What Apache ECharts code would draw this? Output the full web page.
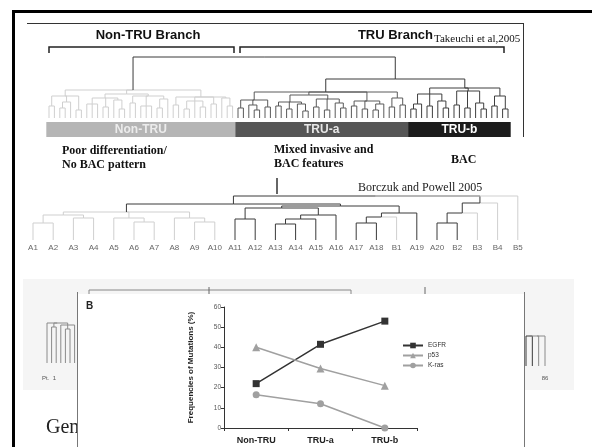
<!DOCTYPE html>
<html><head><meta charset="utf-8">
<script src="https://cdn.jsdelivr.net/npm/echarts@6/dist/echarts.min.js"></script>
<style>html,body{margin:0;padding:0;background:#fff}#c{width:592px;height:447px}</style>
</head><body><div id="c"></div>
<script>
// ---- Line chart data (panel B) ----
const categories = ['Non-TRU', 'TRU-a', 'TRU-b'];
const egfr = [22, 41.5, 53];
const p53 = [40, 29.5, 21];
const kras = [16.5, 12, 0];
const yTicks = [0, 10, 20, 30, 40, 50, 60];
const seriesNames = ['EGFR', 'p53', 'K-ras'];

// ---- Takeuchi dendrogram (leaf index, merge height) ----
const takeuchiGroups = ['Non-TRU', 'TRU-a', 'TRU-b'];
const takeuchiGroupSizes = [35, 32, 19];
const ntTree = [[28,1],
  [22,[12,0,1],[16,[10,2,3],4],[8,5,6]],
  [24,[20,[14,7,8,9],[11,10,11],[18,12,[9,13,14]]],[22,[15,15,16],[12,17,18,19],[19,[10,20,21],22]]],
  [21,[13,23,24],[17,[9,25,26],27,[11,28,29]],[14,30,31],[20,32,[12,33,34]]]
];
const truATree = [[26,2],
  [18,[10,35,36],[13,37,[8,38,39]],[11,40,41]],
  [23,[16,[12,42,43],[9,44,45],[14,46,[7,47,48]]],[19,[11,49,50],[8,51,52],[15,53,[10,54,55]]]],
  [17,[12,56,57],[9,58,59],[14,[8,60,61],62]],
  [20,[11,63,64],[13,65,66]]
];
const truBTree = [[30,3],
  [24,[14,[9,67,68],69],[12,70,71],[17,72,[10,73,74]]],
  [27,[13,75,76],[10,77,78],[15,79,[9,80,81]]],
  [22,[12,82,83],[9,84,85]]
];
const takeuchiTree = [[61,0], ntTree, [[39,0], truATree, truBTree]];

// ---- Borczuk and Powell dendrogram ----
const borczukLabels = ['A1','A2','A3','A4','A5','A6','A7','A8','A9','A10','A11','A12','A13','A14','A15','A16','A17','A18','B1','A19','A20','B2','B3','B4','B5'];
const borczukLightLeaves = [18, 22, 23, 24];
const borczukTree = [[44,0],
  [[36,0],
    [[28,1],[25,[17,0,1],[22,2,3]],[22,4,[18,5,6]],[22,7,[18,8,9]]],
    [34,[32,[21,10,11],[25,[21,[16,12,13],14],15]],[27,[23,[17,16,17],18],19]]
  ],
  [37,[27,[17,20,21],22],23],
  24
];

// ---- small dendrogram fragments behind panel B ----
const miniLeftTree = [[40,4], 0, [36,1,2], [38,3,[34,4,5],6]];
const miniRightTree = [[30,4], [[30,0],0,1], 2, 3];

const palette = ['#3a3a3a', '#cfcfcf', '#5a5a5a', '#3f3f3f', '#8a8a8a'];
const SANS = '"Liberation Sans", Arial, sans-serif';
const SERIF = '"Liberation Serif", "Times New Roman", serif';

function walk(node, segs, inherited, light) {
  if (typeof node === 'number') return {x: node, h: 0, leaf: true, light: light.indexOf(node) >= 0};
  let h = node[0], col = inherited;
  if (Array.isArray(h)) { col = h[1]; h = h[0]; }
  const kids = node.slice(1).map(c => walk(c, segs, col, light));
  const xs = kids.map(k => k.x);
  const x = (Math.min(...xs) + Math.max(...xs)) / 2;
  kids.forEach(k => {
    const c = (k.leaf && k.light) ? 1 : col;
    segs.push([k.x, k.h, k.x, h, c]);
    segs.push([x, h, k.x, h, c]);
  });
  return {x, h, leaf: false};
}
function treeSegs(tree, light) { const s = []; walk(tree, s, 0, light || []); return s; }

function segSeries(gi, segs) {
  return {
    type: 'custom', xAxisIndex: gi, yAxisIndex: gi, data: segs, silent: true, clip: false,
    encode: {x: [0, 2], y: [1, 3]}, z: 2,
    renderItem(params, api) {
      const a = api.coord([api.value(0), api.value(1)]);
      const b = api.coord([api.value(2), api.value(3)]);
      return {type: 'line', shape: {x1: a[0], y1: a[1], x2: b[0], y2: b[1]},
        style: {stroke: palette[api.value(4)], lineWidth: 1}};
    }
  };
}

const barData = [];
{ let s = -0.5; takeuchiGroupSizes.forEach((n, i) => { barData.push([s, s + n, i]); s += n; }); }
const barFill = ['#b5b5b5', '#565656', '#1c1c1c'];
const barText = ['#ececec', '#e8e8e8', '#ffffff'];

const hidden = {show: false};
function hAxis(gi, min, max) { return {gridIndex: gi, type: 'value', min, max, show: false}; }

const chart = echarts.init(document.getElementById('c'), null, {renderer: 'canvas'});
chart.setOption({
  animation: false,
  backgroundColor: '#fff',
  grid: [
    {left: 49, top: 18, width: 459, height: 120, outerBoundsMode: 'none'},
    {left: 33, top: 170, width: 484.8, height: 70, outerBoundsMode: 'none'},
    {left: 47, top: 323, width: 27.6, height: 40, outerBoundsMode: 'none'},
    {left: 526, top: 336, width: 19, height: 30, outerBoundsMode: 'none'},
    {left: 224, top: 307, width: 193, height: 121, outerBoundsMode: 'none'}
  ],
  xAxis: [
    hAxis(0, 0, 85),
    {gridIndex: 1, type: 'value', min: 0, max: 24, interval: 1,
      axisLine: hidden, axisTick: hidden, splitLine: hidden,
      axisLabel: {formatter: v => borczukLabels[v] || '', fontSize: 8, color: '#666', margin: 4, fontFamily: SANS,
        showMinLabel: true, showMaxLabel: true}},
    hAxis(2, 0, 6),
    hAxis(3, 0, 3),
    {gridIndex: 4, type: 'category', data: categories, boundaryGap: true, z: 10,
      axisLine: {lineStyle: {color: '#333', width: 1}},
      axisTick: {show: true, length: 3, alignWithLabel: false, interval: 0, lineStyle: {color: '#333'}},
      axisLabel: {fontSize: 9, fontWeight: 'bold', color: '#222', margin: 8, fontFamily: SANS, interval: 0}}
  ],
  yAxis: [
    hAxis(0, -20, 100),
    hAxis(1, 0, 70),
    hAxis(2, 0, 40),
    hAxis(3, 0, 30),
    {gridIndex: 4, type: 'value', min: yTicks[0], max: yTicks[yTicks.length - 1], interval: yTicks[1] - yTicks[0], z: 10,
      axisLine: {show: true, lineStyle: {color: '#333', width: 1}},
      axisTick: {show: true, length: 3, lineStyle: {color: '#333'}},
      splitLine: hidden,
      axisLabel: {fontSize: 6.5, color: '#555', margin: 3, fontFamily: SANS},
      name: 'Frequencies of Mutations (%)', nameLocation: 'middle', nameGap: 29, nameRotate: 90,
      nameTextStyle: {fontSize: 8, fontWeight: 'bold', color: '#222', fontFamily: SANS}}
  ],
  legend: {
    data: seriesNames, orient: 'vertical', left: 397, top: 337, itemWidth: 20, itemHeight: 7, itemGap: 3,
    textStyle: {fontSize: 6.5, color: '#333', fontFamily: SANS}, z: 10
  },
  series: [
    segSeries(0, treeSegs(takeuchiTree)),
    {
      type: 'custom', xAxisIndex: 0, yAxisIndex: 0, data: barData, silent: true, clip: false, encode: {x: [0, 1]}, z: 2,
      renderItem(params, api) {
        const i = api.value(2);
        const a = api.coord([api.value(0), -4]);
        const b = api.coord([api.value(1), -19]);
        return {type: 'group', children: [
          {type: 'rect', shape: {x: a[0], y: a[1], width: b[0] - a[0], height: b[1] - a[1]}, style: {fill: barFill[i]}},
          {type: 'text', style: {text: takeuchiGroups[i], x: (a[0] + b[0]) / 2, y: (a[1] + b[1]) / 2,
            align: 'center', verticalAlign: 'middle', fill: barText[i], font: 'bold 12px ' + SANS}}
        ]};
      }
    },
    segSeries(1, treeSegs(borczukTree, borczukLightLeaves)),
    segSeries(2, treeSegs(miniLeftTree)),
    segSeries(3, treeSegs(miniRightTree)),
    {name: seriesNames[0], type: 'line', xAxisIndex: 4, yAxisIndex: 4, data: egfr, z: 10,
      symbol: 'rect', symbolSize: 7, lineStyle: {color: '#333', width: 1.5}, itemStyle: {color: '#333'}},
    {name: seriesNames[1], type: 'line', xAxisIndex: 4, yAxisIndex: 4, data: p53, z: 10,
      symbol: 'triangle', symbolSize: 8, lineStyle: {color: '#a0a0a0', width: 1.5}, itemStyle: {color: '#a0a0a0'}},
    {name: seriesNames[2], type: 'line', xAxisIndex: 4, yAxisIndex: 4, data: kras, z: 10,
      symbol: 'circle', symbolSize: 7, lineStyle: {color: '#a0a0a0', width: 1.5}, itemStyle: {color: '#a0a0a0'}}
  ],
  graphic: [
    {type: 'rect', z: 0, shape: {x: 23, y: 279, width: 551, height: 111}, style: {fill: '#f5f5f5'}},
    {type: 'text', z: 1, style: {text: 'Gene expression', x: 46, y: 428, verticalAlign: 'middle', font: '20px ' + SERIF, fill: '#222'}},
    {type: 'polyline', z: 1, shape: {points: [[89, 298], [89, 290], [351, 290], [351, 297]]}, style: {stroke: '#888', fill: null, lineWidth: 1}},
    {type: 'line', z: 1, shape: {x1: 209, y1: 287, x2: 209, y2: 297}, style: {stroke: '#666', lineWidth: 1}},
    {type: 'line', z: 1, shape: {x1: 425, y1: 287, x2: 425, y2: 297}, style: {stroke: '#666', lineWidth: 1}},
    {type: 'text', z: 1, style: {text: 'Pt.  1', x: 42, y: 378, verticalAlign: 'middle', font: '6px ' + SANS, fill: '#555'}},
    {type: 'text', z: 1, style: {text: '86', x: 545, y: 378, align: 'center', verticalAlign: 'middle', font: '6px ' + SANS, fill: '#555'}},
    {type: 'rect', z: 3, shape: {x: 77, y: 294, width: 448, height: 160}, style: {fill: '#fff'}},
    {type: 'line', z: 3, shape: {x1: 77.5, y1: 292, x2: 77.5, y2: 447}, style: {stroke: '#777', lineWidth: 1}},
    {type: 'line', z: 3, shape: {x1: 524.5, y1: 292, x2: 524.5, y2: 447}, style: {stroke: '#777', lineWidth: 1}},
    {type: 'text', z: 5, style: {text: 'B', x: 86, y: 306, verticalAlign: 'middle', font: 'bold 10px ' + SANS, fill: '#222'}},
    {type: 'rect', z: 5, shape: {x: 12, y: 10, width: 580, height: 3}, style: {fill: '#000'}},
    {type: 'rect', z: 5, shape: {x: 12, y: 10, width: 3, height: 437}, style: {fill: '#000'}},
    {type: 'line', z: 5, shape: {x1: 27, y1: 23.5, x2: 523, y2: 23.5}, style: {stroke: '#333', lineWidth: 1}},
    {type: 'line', z: 5, shape: {x1: 523.5, y1: 23, x2: 523.5, y2: 137}, style: {stroke: '#333', lineWidth: 1}},
    {type: 'polyline', z: 5, shape: {points: [[49, 53], [49, 47], [234, 47], [234, 53]]}, style: {stroke: '#222', fill: null, lineWidth: 1.5}},
    {type: 'polyline', z: 5, shape: {points: [[240, 53], [240, 47], [504, 47], [504, 53]]}, style: {stroke: '#222', fill: null, lineWidth: 1.5}},
    {type: 'line', z: 5, shape: {x1: 277, y1: 178, x2: 277, y2: 194}, style: {stroke: '#333', lineWidth: 1.5}},
    {type: 'text', z: 5, style: {text: 'Non-TRU Branch', x: 148, y: 35, align: 'center', verticalAlign: 'middle', font: 'bold 13px ' + SANS, fill: '#111'}},
    {type: 'text', z: 5, style: {text: 'TRU Branch', x: 433, y: 35, align: 'right', verticalAlign: 'middle', font: 'bold 13px ' + SANS, fill: '#111'}},
    {type: 'text', z: 5, style: {text: 'Takeuchi et al,2005', x: 434, y: 39, verticalAlign: 'middle', font: '11px ' + SERIF, fill: '#111'}},
    {type: 'text', z: 5, style: {text: 'Poor differentiation/\nNo BAC pattern', x: 62, y: 144, lineHeight: 14, verticalAlign: 'top', font: 'bold 12px ' + SERIF, fill: '#111'}},
    {type: 'text', z: 5, style: {text: 'Mixed invasive and\nBAC features', x: 274, y: 143, lineHeight: 14, verticalAlign: 'top', font: 'bold 12px ' + SERIF, fill: '#111'}},
    {type: 'text', z: 5, style: {text: 'BAC', x: 451, y: 160, verticalAlign: 'middle', font: 'bold 12px ' + SERIF, fill: '#111'}},
    {type: 'text', z: 5, style: {text: 'Borczuk and Powell 2005', x: 358, y: 188, verticalAlign: 'middle', font: '12px ' + SERIF, fill: '#222'}}
  ]
});
</script>
</body></html>
